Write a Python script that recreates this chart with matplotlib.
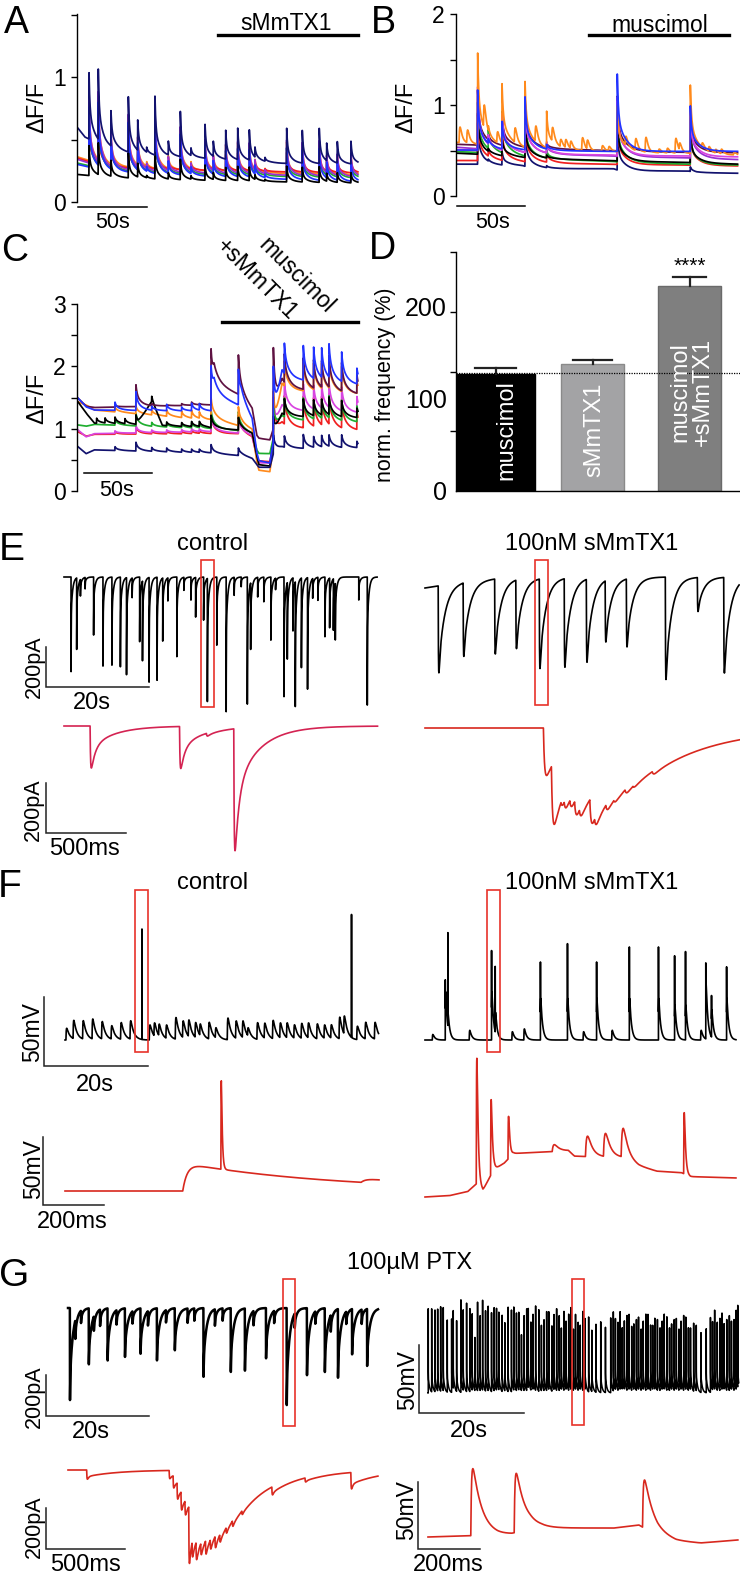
import numpy as np
import matplotlib
matplotlib.use("Agg")
import matplotlib.pyplot as plt
from matplotlib.patches import Rectangle
from matplotlib.ticker import FixedLocator

plt.rcParams['font.family'] = ['Liberation Sans', 'DejaVu Sans']

W, H = 740, 1576

# ---------------- panel A : calcium imaging, sMmTX1 ----------------
A_event_t = [8.0, 14.7, 23.9, 36.5, 43.3, 49.8, 55.8, 65.5, 74.2, 81.9, 92.1, 98.1,
             107.1, 115.8, 124.2, 128.3, 135.6, 151.3, 162.6, 174.9, 180.3, 188.0, 197.9]
A_navy_amp = [0.53, 0.56, 0.28, 0.44, 0.24, 0.04, 0.47, 0.11, 0.36, 0.06, 0.27, 0.12,
              0.23, 0.25, 0.24, 0.08, 0.03, 0.28, 0.26, 0.28, 0.14, 0.17, 0.18]
A_navy_base_t = [0, 5, 20, 35, 55, 90, 147, 203]
A_navy_base = [0.59, 0.52, 0.44, 0.40, 0.37, 0.35, 0.31, 0.30]
A_base_t = [0, 20, 60, 203]
A_orange_base = [0.36, 0.29, 0.26, 0.21]
A_red_base = [0.35, 0.28, 0.26, 0.23]
A_green_base = [0.31, 0.26, 0.23, 0.19]
A_violet_base = [0.34, 0.27, 0.24, 0.20]
A_blue_base = [0.30, 0.25, 0.22, 0.16]
A_black_base = [0.22, 0.20, 0.18, 0.15]
A_gain = [0.9, 0.55, 0.8, 1.0, 0.9, 0.45]   # orange, red, green, violet, blue, black
A_drug_on, A_end = 101.5, 203.0

# ---------------- panel B : muscimol ----------------
B_event_t = [15.2, 23.0, 33.1, 50.0, 65.9, 117.8, 171.5]
B_base_t = [0, 15, 20, 48, 55, 115, 120, 170, 176, 206.3]
B_navy_base = [0.35, 0.35, 0.33, 0.33, 0.30, 0.30, 0.275, 0.275, 0.256, 0.25]
B_red_base = [0.39, 0.39, 0.38, 0.37, 0.36, 0.35, 0.345, 0.34, 0.335, 0.33]
B_green_base = [0.487, 0.48, 0.46, 0.43, 0.41, 0.38, 0.37, 0.35, 0.345, 0.34]
B_black_base = [0.47, 0.46, 0.44, 0.42, 0.41, 0.39, 0.38, 0.37, 0.36, 0.35]
B_maroon_base = [0.568, 0.56, 0.55, 0.53, 0.52, 0.50, 0.49, 0.48, 0.477, 0.475]
B_purple_base = [0.535, 0.52, 0.50, 0.47, 0.46, 0.44, 0.43, 0.42, 0.41, 0.40]
B_magenta_base = [0.51, 0.50, 0.49, 0.47, 0.46, 0.45, 0.44, 0.44, 0.43, 0.43]
B_orange_base = [0.59, 0.57, 0.55, 0.52, 0.51, 0.49, 0.48, 0.47, 0.46, 0.45]
B_blue_base = [0.505, 0.505, 0.50, 0.50, 0.50, 0.49, 0.49, 0.49, 0.49, 0.49]
B_navy_amp = [0.45, 0.02, 0.15, 0.40, 0.02, 0.45, 0.05]
B_red_amp = [0.50, 0.08, 0.35, 0.45, 0.12, 0.50, 0.40]
B_green_amp = [0.55, 0.22, 0.45, 0.45, 0.08, 0.55, 0.40]
B_black_amp = [0.45, 0.03, 0.20, 0.40, 0.03, 0.45, 0.35]
B_maroon_amp = [0.60, 0.05, 0.35, 0.50, 0.05, 0.60, 0.45]
B_purple_amp = [0.65, 0.08, 0.40, 0.55, 0.10, 0.65, 0.50]
B_magenta_amp = [0.70, 0.10, 0.40, 0.55, 0.12, 0.60, 0.50]
B_orange_amp = [1.00, 0.05, 0.65, 0.72, 0.40, 0.50, 0.75]
B_blue_amp = [0.66, 0.05, 0.30, 0.58, 0.05, 0.85, 0.50]
B_orange_own_t = [1.5, 7.1, 19.4, 29.2, 42.1, 57.3, 69.6, 75.7, 79.4, 83.1, 91.6, 95.3, 106.3,
                  111.2, 123.5, 130.8, 138.2, 148.0, 154.1, 160.2, 163.2, 179.8, 184.7, 189.6,
                  193.8, 203.1]
B_orange_own_amp = [0.17, 0.14, 0.25, 0.12, 0.16, 0.17, 0.15, 0.08, 0.09, 0.08, 0.14, 0.10, 0.06,
                    0.05, 0.10, 0.13, 0.16, 0.04, 0.05, 0.16, 0.08, 0.05, 0.05, 0.04, 0.05, 0.03]
B_drug_on, B_drug_off, B_end = 97.0, 200.0, 206.3

# ---------------- panel C : muscimol + sMmTX1 ----------------
C_event_t = [27.2, 42.6, 54.2, 65.2, 76.2, 83.5, 89.2, 97.8, 117.9, 143.6, 151.7, 165.6,
             173.2, 179.1, 184.5, 193.8, 205.0]
C_knot_t = [0, 6, 12, 95, 97.8, 100, 117.9, 120, 128, 131.5, 133, 141, 143.6, 150, 206]
C_red_base = [0.95, 0.88, 0.91, 0.92, 0.92, 0.92, 0.92, 0.92, 0.86, 0.55, 0.48, 0.47, 0.75, 1.02, 0.97]
C_magenta_base = [0.98, 0.87, 0.92, 0.95, 0.95, 0.95, 0.93, 0.93, 0.88, 0.52, 0.45, 0.45, 0.80, 1.30, 1.25]
C_green_base = [1.06, 1.04, 1.07, 1.00, 1.00, 1.00, 0.97, 0.97, 0.92, 0.65, 0.60, 0.60, 0.85, 1.15, 1.10]
C_orange_base = [1.43, 1.38, 1.30, 1.14, 1.14, 1.15, 1.05, 1.05, 0.98, 0.45, 0.33, 0.31, 0.70, 1.62, 1.55]
C_black_base = [1.43, 1.25, 1.09, 1.02, 1.01, 1.00, 0.98, 0.98, 0.92, 0.55, 0.42, 0.40, 0.80, 1.20, 1.17]
C_navy_base = [0.71, 0.60, 0.66, 0.61, 0.61, 0.60, 0.57, 0.57, 0.52, 0.42, 0.38, 0.38, 0.60, 0.68, 0.69]
C_maroon_base = [1.49, 1.36, 1.34, 1.38, 1.38, 1.72, 1.55, 1.50, 1.30, 0.88, 0.84, 0.82, 1.00, 1.65, 1.55]
C_blue_base = [1.49, 1.35, 1.30, 1.28, 1.28, 1.55, 1.38, 1.45, 1.14, 0.60, 0.48, 0.45, 0.80, 1.80, 1.70]
C_red_amp = [0.04, 0.12, 0.04, 0.04, 0.04, 0.05, 0.04, 0.30, 0.30, 0.75, 0.45, 0.50, 0.45, 0.45, 0.48, 0.45, 0.30]
C_magenta_amp = [0.04, 0.12, 0.04, 0.04, 0.04, 0.05, 0.04, 0.25, 0.25, 0.70, 0.40, 0.42, 0.38, 0.38, 0.40, 0.38, 0.25]
C_green_amp = [0.10, 0.20, 0.06, 0.06, 0.06, 0.08, 0.06, 0.30, 0.30, 0.55, 0.30, 0.35, 0.30, 0.30, 0.35, 0.32, 0.25]
C_orange_amp = [0.08, 0.12, 0.08, 0.10, 0.10, 0.12, 0.10, 0.35, 0.30, 0.90, 0.40, 0.45, 0.42, 0.40, 0.45, 0.40, 0.20]
C_black_amp = [0.10, 0.15, 0.08, 0.06, 0.06, 0.08, 0.08, 0.20, 0.20, 0.40, 0.25, 0.28, 0.25, 0.25, 0.28, 0.25, 0.15]
C_navy_amp = [0.06, 0.14, 0.06, 0.06, 0.05, 0.05, 0.05, 0.13, 0.12, 0.30, 0.18, 0.22, 0.17, 0.18, 0.18, 0.20, 0.10]
C_maroon_amp = [0.03, 0.35, 0.03, 0.02, 0.03, 0.05, 0.02, 0.90, 0.63, 1.30, 0.45, 0.50, 0.45, 0.42, 0.50, 0.45, 0.30]
C_blue_amp = [0.13, 0.30, 0.06, 0.10, 0.06, 0.12, 0.10, 0.72, 0.57, 1.20, 0.48, 0.55, 0.50, 0.47, 0.53, 0.47, 0.25]
C_black_hump_t = [44, 54.2, 62]
C_black_hump = [0, 0.38, 0]
C_black_extra_t = [13.7, 19.9, 34.5]
C_black_extra_amp = [0.08, 0.08, 0.08]
C_drug_on, C_end = 105.8, 205.8

# ---------------- panel D : frequency ----------------
D_labels = ['muscimol', 'sMmTX1', 'muscimol\n+sMmTX1']
D_values = [126.5, 137.0, 221.6]
D_sem = [6.1, 4.6, 10.1]
D_ref = 128.0
D_tick_marks = [0, 64.6, 129.2, 193.8, 258.4]

# ---------------- panel E : sEPSCs ----------------
E_ctrl_t = [1.37, 2.46, 3.19, 4.10, 5.75, 7.57, 9.31, 10.95, 12.14, 13.23, 14.69, 15.24, 16.52,
            18.07, 19.17, 20.17, 21.91, 23.28, 24.65, 25.56, 27.11, 27.84, 29.67, 31.49, 33.04,
            34.41, 35.60, 36.24, 37.61, 38.80, 40.17, 41.08, 42.72, 43.36, 44.46, 44.91, 46.10,
            47.29, 48.29, 49.30, 50.67, 51.58, 52.31, 52.68, 57.24, 58.89]
E_ctrl_amp = [-473, -357, -82, -57, -290, -445, -440, -448, -485, -98, -323, -398, -523,
              -515, -315, -115, -398, -65, -115, -198, -215, -615, -340, -673, -90,
              -48, -635, -332, -98, -123, -315, -57, -598, -382, -265, -623, -448,
              -557, -98, -115, -298, -248, -257, -282, -115, -640]
E_ctrl_window = (26.6, 29.1)
E_sm_t = [2.56, 7.40, 13.52, 17.63, 22.19, 27.03, 31.32, 34.98, 39.09, 46.66, 52.88, 58.00]
E_sm_amp = [-435, -368, -375, -343, -448, -443, -415, -307, -340, -512, -170, -478]
E_sm_base_t = [0, 2.5, 8, 15, 30, 61]
E_sm_base = [-55, -45, -20, -5, 0, 0]
E_sm_window = (21.3, 23.9)
E_ctrl_zoom_t = [163, 722, 890, 1061]
E_ctrl_zoom_amp = [-168, -168, -12, -488]
E_sm_zoom_t = [740, 790, 850, 870, 905, 935, 965, 1030, 1060, 1130, 1180, 1250, 1300, 1420]
E_sm_zoom_amp = [-190, -250, -30, -40, -40, -70, -40, -110, -40, -30, -15, -20, -10, -15]

# ---------------- panel F : membrane potential ----------------
F_rest = -65.0
F_ctrl_bump_t = [0.18, 1.55, 3.38, 5.20, 7.03, 8.86, 10.68, 12.50, 16.20, 17.10, 18.00, 19.40,
                 21.20, 22.60, 23.70, 25.00, 25.90, 27.60, 28.90, 31.20, 32.80, 34.10, 35.10,
                 36.90, 38.30, 39.90, 41.30, 42.60, 44.00, 45.40, 46.70, 48.40, 49.80, 51.10,
                 52.70, 53.60, 56.10, 57.70, 59.50]
F_ctrl_bump_amp = [8.5, 13.3, 13.3, 14.5, 12.6, 9.7, 12.1, 13.3, 10.9, 9.7, 8.5, 9.7, 15.7,
                   12.1, 12.1, 10.9, 8.5, 12.1, 7.3, 15.7, 12.6, 12.1, 6.0, 12.1, 10.9, 13.3,
                   10.9, 10.9, 9.7, 10.9, 10.9, 10.9, 9.7, 9.7, 15.7, 13.3, 9.7, 12.1, 12.1]
F_ctrl_spike_t = [14.8, 55.1]
F_ctrl_spike_amp = [80, 89]
F_ctrl_window = (13.5, 16.0)
F_sm_spike_t = [3.9, 4.4, 12.8, 13.5, 22.2, 27.4, 33.0, 39.3, 44.9, 48.0, 50.1, 54.0, 55.1, 58.0]
F_sm_spike_amp = [78.6, 77.3, 99.8, 62.4, 86.5, 99.8, 86.5, 97.4, 97.4, 86.0, 89.0, 95.0, 50.0, 83.0]
F_sm_plateau = [35, 10, 35, 15, 30, 30, 30, 30, 30, 25, 25, 40, 20, 30]
F_sm_small_t = [1.4, 8.5, 16.7, 19.0, 30.4, 35.9, 53.0]
F_sm_small_amp = [4, 7, 6, 8, 6, 7, 7]
F_sm_window = (11.9, 14.4)
F_ctrl_zoom_epsp_t = [386, 971]
F_ctrl_zoom_epsp_amp = [18, 2.5]
F_ctrl_zoom_spike_t = [511]
F_ctrl_zoom_spike_amp = [65]
F_sm_zoom_base_t = [0, 80, 140, 160, 170, 190, 225, 260, 290, 470, 490, 650, 700, 760, 840, 870, 1020]
F_sm_zoom_base = [-65, -64, -61, -57, -55, -60, -45, -40, -33, -31, -35, -36, -42, -46, -47, -50, -51]
F_sm_zoom_spike_t = [168, 215, 272, 848]
F_sm_zoom_spike_amp = [92, 55, 31, 45]
F_sm_zoom_bump_t = [417, 526, 585, 643]
F_sm_zoom_bump_amp = [5, 15, 17, 21]

# ---------------- panel G : 100 uM PTX ----------------
G_i_t = [0.36, 4.02, 7.67, 11.04, 14.06, 17.25, 20.72, 26.29, 31.59, 34.33, 38.43, 42.45,
         46.38, 49.85, 52.40, 55.14, 58.06]
G_i_amp = [-449, -273, -254, -237, -221, -254, -205, -335, -311, -303, -245, -473,
           -327, -311, -335, -221, -278]
G_i_small_t = [1.4, 2.5, 5.0, 6.2, 9.4, 12.5, 15.5, 19.0, 23.2, 24.5, 28.5, 30.0, 36.0,
               40.0, 44.0, 48.0, 51.0, 54.0, 57.0]
G_i_small_amp = [-90, -60, -70, -80, -70, -60, -70, -60, -70, -60, -80, -60, -70,
                 -60, -70, -60, -80, -60, -70]
G_i_window = (41.8, 44.1)
G_v_spike_t = [0.05, 0.70, 1.33, 1.84, 2.41, 2.91, 3.67, 4.50, 4.81, 5.45, 6.27, 6.71, 7.35,
               7.98, 8.42, 8.93, 9.44, 9.94, 10.40, 10.96, 11.46, 12.10, 12.60, 13.05, 13.49,
               14.12, 14.63, 15.26, 15.90, 16.34, 16.85, 17.29, 17.80, 18.3, 18.8, 19.1, 19.6,
               20.0, 20.5, 21.1, 21.6, 22.1, 22.6, 23.0, 23.6, 24.0, 24.5, 25.0, 25.4, 25.9,
               26.3, 26.8, 27.2, 27.7, 28.1, 28.6, 29.0, 29.5, 29.9, 30.6, 31.2, 32.0, 32.9,
               33.8, 34.8, 35.3, 35.7, 36.2, 36.6, 37.0, 37.4, 37.9, 38.3, 38.8, 39.2, 39.7,
               40.1, 40.6, 41.0, 41.5, 41.9, 42.4, 42.8, 43.2, 43.7, 44.2, 44.6, 45.0, 45.5,
               46.0, 46.4, 46.9, 47.3, 47.8, 48.2, 48.7, 49.1, 49.6, 50.0, 50.6, 51.1, 52.0,
               53.0, 53.8, 54.2, 54.6, 55.1, 55.6, 56.0, 56.4, 56.9, 57.4, 57.8, 58.3, 58.7,
               59.0]
G_v_spike_amp = [62, 61, 60, 60, 62, 61, 53, 54, 57, 52, 68, 59, 65,
                 61, 56, 39, 65, 55, 66, 59, 62, 58, 61, 60, 57,
                 56, 50, 62, 60, 61, 57, 57, 41, 55, 60, 58, 50,
                 55, 62, 60, 48, 52, 58, 57, 48, 55, 60, 55, 45, 58,
                 50, 56, 60, 45, 55, 50, 47, 58, 52, 55, 45, 50, 52,
                 48, 55, 58, 52, 50, 57, 45, 50, 55, 55, 47, 48, 52,
                 53, 45, 50, 56, 55, 48, 47, 52, 52, 46, 50, 55, 54,
                 46, 48, 52, 52, 45, 50, 55, 53, 46, 45, 50, 48, 44,
                 47, 55, 50, 58, 50, 53, 56, 48, 52, 55, 50, 52, 58,
                 60]
G_v_window = (27.4, 29.7)
G_i_zoom_t = [118, 640, 665, 690, 715, 740, 764, 785, 810, 840, 870, 900, 930, 960, 1000,
              1040, 1100, 1290, 1500, 1790]
G_i_zoom_amp = [-45, -40, -60, -80, -90, -70, -280, -80, -90, -60, -70, -50, -60, -40, -30,
                -30, -20, -40, -20, -80]
G_v_zoom_base_t = [0, 130, 225, 270, 330, 363, 600, 680, 740, 800, 880, 1000]
G_v_zoom_base = [0, 1, 1, 2, 6, 6.7, 6.7, 9, 1, -3, -4.5, -2.2]
G_v_zoom_spike_t = [138, 278, 692]
G_v_zoom_spike_amp = [50, 44, 36]

# colours
NAVY, BLUE, VIOLET, MAGENTA = "#12126e", "#2233ff", "#9a2fd0", "#d845e0"
ORANGE, RED, GREEN, MAROON = "#ff8a1c", "#f02020", "#1fae2f", "#5e1242"
TRACE_RED, CTRL_RED, BOX_RED = "#d8281e", "#d42352", "#e8322a"


def kernel_sum(t, ev_t, ev_a, taus, fracs, rise=0.0):
    y = np.zeros_like(t)
    for te, a in zip(ev_t, ev_a):
        i = np.searchsorted(t, te)
        if i >= len(t):
            continue
        s = t[i:] - t[i]
        k = np.zeros_like(s)
        for f, tau in zip(fracs, taus):
            k += f * np.exp(-s / tau)
        if rise > 0:
            k *= 1 - np.exp(-s / rise)
            k /= k.max()
        y[i:] += a * k
    return y


fig = plt.figure(figsize=(W / 100, H / 100), dpi=100)


def px_axes(box, xref_px, xref, xs, yref_px, yref, ys, off=True):
    l, t, r, b = box
    ax = fig.add_axes([l / W, 1 - b / H, (r - l) / W, (b - t) / H])
    ax.set_xlim(xref + (l - xref_px) * xs, xref + (r - xref_px) * xs)
    ax.set_ylim(yref + (yref_px - b) * ys, yref + (yref_px - t) * ys)
    if off:
        ax.axis('off')
    return ax


def ftext(x, y, s, size, **kw):
    kw.setdefault('ha', 'center')
    kw.setdefault('va', 'center')
    fig.text(x / W, 1 - y / H, s, fontsize=size, **kw)


def scalebar(ax, x0, y0, dx, dy):
    ax.plot([x0, x0, x0 + dx], [y0 + dy, y0, y0], color='#222222', lw=1.1,
            clip_on=False, solid_joinstyle='miter')


def zoom_box(ax, win, v0, v1):
    ax.add_patch(Rectangle((win[0], v0), win[1] - win[0], v1 - v0, fill=False,
                           ec=BOX_RED, lw=1.2, clip_on=False, zorder=5))


def imaging_axes(ax, ticks, labels):
    for s in ('top', 'right', 'bottom'):
        ax.spines[s].set_visible(False)
    ax.spines['left'].set_linewidth(1.0)
    ax.set_xticks([])
    ax.set_yticks(ticks)
    ax.set_yticklabels(labels)
    ax.tick_params(axis='y', length=4, width=1.0, labelsize=16.5, pad=4)


LW = 1.25

# ---- A ----
axA = px_axes((77, 14, 360, 202), 78, 0, 0.725, 202, 0, 1 / 125, off=False)
imaging_axes(axA, [0, 0.5, 1, 1.5], ['0', '', '1', ''])
tA = np.arange(0, A_end, 0.1)
A_traces = [(A_orange_base, ORANGE), (A_red_base, RED), (A_green_base, GREEN),
            (A_violet_base, VIOLET), (A_blue_base, BLUE), (A_black_base, 'k')]
for (base, col), g in zip(A_traces, A_gain):
    y = np.interp(tA, A_base_t, base) + kernel_sum(tA, A_event_t, np.array(A_navy_amp) * g,
                                                     (0.6, 3.5), (0.55, 0.45))
    axA.plot(tA, y, color=col, lw=LW)
yN = np.interp(tA, A_navy_base_t, A_navy_base) + kernel_sum(tA, A_event_t, A_navy_amp,
                                                              (0.6, 3.5), (0.55, 0.45))
axA.plot(tA, yN, color=NAVY, lw=LW)
axA.plot([0, 50], [-0.04, -0.04], color='k', lw=1.1, clip_on=False)
axA.plot([A_drug_on, A_end], [1.336, 1.336], color='k', lw=2.4, clip_on=False)
ftext(286, 23, 'sMmTX1', 16.5)
ftext(113, 222, '50s', 15.5)
ftext(37, 107, 'ΔF/F', 17, rotation=90)
ftext(16, 23, 'A', 27)

# ---- B ----
axB = px_axes((456, 14, 740, 196), 457, 0, 0.735, 196, 0, 1 / 91, off=False)
imaging_axes(axB, [0, 0.5, 1, 1.5, 2], ['0', '', '1', '', '2'])
tB = np.arange(0, B_end, 0.1)
B_traces = [(B_navy_base, B_navy_amp, NAVY), (B_red_base, B_red_amp, RED),
            (B_green_base, B_green_amp, GREEN), (B_black_base, B_black_amp, 'k'),
            (B_maroon_base, B_maroon_amp, MAROON), (B_purple_base, B_purple_amp, VIOLET),
            (B_magenta_base, B_magenta_amp, MAGENTA), (B_orange_base, B_orange_amp, ORANGE),
            (B_blue_base, B_blue_amp, BLUE)]
for base, amp, col in B_traces:
    y = np.interp(tB, B_base_t, base) + kernel_sum(tB, B_event_t, amp, (0.8, 6.0), (0.55, 0.45))
    if col == ORANGE:
        y += kernel_sum(tB, B_orange_own_t, B_orange_own_amp, (1.5,), (1.0,), rise=0.6)
    axB.plot(tB, y, color=col, lw=LW)
axB.plot([0, 50], [-0.11, -0.11], color='k', lw=1.1, clip_on=False)
axB.plot([B_drug_on, B_drug_off], [1.77, 1.77], color='k', lw=2.4, clip_on=False)
ftext(660, 25, 'muscimol', 16.5)
ftext(493, 222, '50s', 15.5)
ftext(406, 107, 'ΔF/F', 17, rotation=90)
ftext(383, 23, 'B', 27)

# ---- C ----
axC = px_axes((77, 304, 360, 491), 78, 0, 0.735, 491, 0, 1 / 62.3, off=False)
imaging_axes(axC, [0, 0.5, 1, 1.5, 2, 2.5, 3], ['0', '', '1', '', '2', '', '3'])
tC = np.arange(0, C_end, 0.1)
C_traces = [(C_red_base, C_red_amp, RED), (C_magenta_base, C_magenta_amp, MAGENTA),
            (C_green_base, C_green_amp, GREEN), (C_orange_base, C_orange_amp, ORANGE),
            (C_black_base, C_black_amp, 'k'), (C_navy_base, C_navy_amp, NAVY),
            (C_maroon_base, C_maroon_amp, MAROON), (C_blue_base, C_blue_amp, BLUE)]
for base, amp, col in C_traces:
    y = np.interp(tC, C_knot_t, base) + kernel_sum(tC, C_event_t, amp, (0.8, 4.0), (0.4, 0.6))
    if col == 'k':
        y += np.interp(tC, C_black_hump_t, C_black_hump, left=0, right=0)
        y += kernel_sum(tC, C_black_extra_t, C_black_extra_amp, (0.8, 4.0), (0.4, 0.6))
    axC.plot(tC, y, color=col, lw=LW)
axC.plot([4.4, 54.4], [0.29, 0.29], color='k', lw=1.1)
axC.plot([C_drug_on, C_end], [2.71, 2.71], color='k', lw=2.4, clip_on=False)
ftext(117, 490, '50s', 15.5)
ftext(296, 276, 'muscimol', 16.5, rotation=-45)
ftext(257, 279, '+sMmTX1', 16.5, rotation=-45)
ftext(37, 398, 'ΔF/F', 17, rotation=90)
ftext(15, 251, 'C', 27)

# ---- D ----
axD = px_axes((456, 252, 740, 491), 456, -0.41, 2.93 / 284, 491, 0, 258.4 / 239, off=False)
xD = np.arange(len(D_values))
axD.bar(xD, D_values, width=[0.80, 0.65, 0.65], color=['#000000', '#a3a3a5', '#7f7f7f'],
        edgecolor=['#000000', '#8a8a8a', '#6a6a6a'], linewidth=1.0, zorder=2)
for xi, v, e, cw in zip(xD, D_values, D_sem, [0.42, 0.40, 0.34]):
    axD.plot([xi, xi], [v, v + e], color='#222222', lw=1.6, zorder=3)
    axD.plot([xi - cw / 2, xi + cw / 2], [v + e, v + e], color='#222222', lw=1.6, zorder=3)
axD.axhline(D_ref, color='k', ls=(0, (1, 1)), lw=0.9, zorder=4)
for s in ('top', 'right'):
    axD.spines[s].set_visible(False)
axD.spines['left'].set_linewidth(1.0)
axD.spines['bottom'].set_linewidth(1.0)
axD.set_xticks([])
axD.set_yticks([0, 100, 200])
axD.set_yticklabels(['0', '100', '200'])
axD.tick_params(axis='y', which='major', length=0, pad=6.5, labelsize=18)
axD.yaxis.set_minor_locator(FixedLocator(D_tick_marks))
axD.tick_params(axis='y', which='minor', length=4, width=1.0)
for xi, lab, yc, dx in zip(xD, D_labels, [66, 66, 107], [0.11, 0.02, 0.02]):
    axD.text(xi + dx, yc, lab, rotation=90, color='white', fontsize=17, ha='center',
             va='center', linespacing=1.0, zorder=5)
axD.text(2, 242.5, '****', ha='center', va='center', fontsize=15)
ftext(386, 385, 'norm. frequency (%)', 15.5, rotation=90)
ftext(382, 249, 'D', 27)

# ---- E ----
ftext(12, 550, 'E', 28)
ftext(213, 544, 'control', 17)
ftext(592, 544, '100nM sMmTX1', 17)

axE1 = px_axes((30, 555, 385, 715), 64, 0, 20 / 103, 577, 0, 5.0)
tE1 = np.arange(0, 60.8, 0.005)
axE1.plot(tE1, kernel_sum(tE1, E_ctrl_t, E_ctrl_amp, (0.03, 0.3), (0.6, 0.4)), color='k', lw=1.2)
zoom_box(axE1, E_ctrl_window, 85, -650)
scalebar(axE1, -3.5, -550, 20, 200)
ftext(34, 667, '200pA', 15.5, rotation=90)
ftext(92, 703, '20s', 17)

axE2 = px_axes((410, 555, 740, 715), 425, 0, 20 / 103, 577, 0, 5.0)
tE2 = np.arange(0, 61.0, 0.005)
yE2 = np.interp(tE2, E_sm_base_t, E_sm_base) + kernel_sum(tE2, E_sm_t, E_sm_amp, (0.15, 1.2),
                                                          (0.35, 0.65), rise=0.06)
axE2.plot(tE2, yE2, color='k', lw=1.2)
zoom_box(axE2, E_sm_window, 85, -640)

axE3 = px_axes((30, 715, 385, 860), 64, 0, 6.25, 726, 0, 4.0)
tE3 = np.arange(0, 1960, 0.5)
axE3.plot(tE3, kernel_sum(tE3, E_ctrl_zoom_t, E_ctrl_zoom_amp, (25, 150), (0.6, 0.4), rise=3),
          color=CTRL_RED, lw=1.2)
scalebar(axE3, -112.5, -428, 500, 200)
ftext(33, 810, '200pA', 15.5, rotation=90)
ftext(84, 849, '500ms', 17)

axE4 = px_axes((410, 715, 740, 860), 425, 0, 6.25, 728, 0, 4.0)
tE4 = np.arange(0, 1965, 0.5)
axE4.plot(tE4, kernel_sum(tE4, E_sm_zoom_t, E_sm_zoom_amp, (40, 400), (0.5, 0.5), rise=8),
          color=TRACE_RED, lw=1.2)

# ---- F ----
ftext(10, 887, 'F', 28)
ftext(213, 883, 'control', 17)
ftext(592, 883, '100nM sMmTX1', 17)

axF1 = px_axes((25, 880, 385, 1075), 65, 0, 20 / 104, 1040, F_rest, 50 / 69)
tF1 = np.arange(0, 60.3, 0.005)
yF1 = F_rest + kernel_sum(tF1, F_ctrl_bump_t, F_ctrl_bump_amp, (0.6,), (1.0,), rise=0.06)
yF1 += kernel_sum(tF1, F_ctrl_spike_t, F_ctrl_spike_amp, (0.004,), (1.0,))
axF1.plot(tF1, yF1, color='k', lw=1.2)
zoom_box(axF1, F_ctrl_window, 43.75, -73.7)
scalebar(axF1, -4.0, -83.9, 20, 50)
ftext(33, 1032, '50mV', 16.5, rotation=90)
ftext(95, 1085, '20s', 17)

axF2 = px_axes((410, 880, 740, 1075), 425, 0, 20 / 104, 1040, F_rest, 50 / 69)
tF2 = np.arange(0, 59.8, 0.005)
yF2 = F_rest + kernel_sum(tF2, F_sm_spike_t, F_sm_plateau, (0.35,), (1.0,), rise=0.02)
yF2 += kernel_sum(tF2, F_sm_spike_t, np.array(F_sm_spike_amp) - np.array(F_sm_plateau),
                  (0.004,), (1.0,))
yF2 += kernel_sum(tF2, F_sm_small_t, F_sm_small_amp, (0.4,), (1.0,), rise=0.05)
axF2.plot(tF2, yF2, color='k', lw=1.2)
zoom_box(axF2, F_sm_window, 43.75, -73.7)

axF3 = px_axes((25, 1080, 385, 1240), 65, 0, 200 / 61, 1191, F_rest, 50 / 68)
tF3 = np.arange(0, 1030, 0.5)
yF3 = F_rest + kernel_sum(tF3, F_ctrl_zoom_epsp_t, F_ctrl_zoom_epsp_amp, (500,), (1.0,), rise=15)
yF3 += kernel_sum(tF3, F_ctrl_zoom_spike_t, F_ctrl_zoom_spike_amp, (3,), (1.0,), rise=1)
axF3.plot(tF3, yF3, color=TRACE_RED, lw=1.2)
scalebar(axF3, -72, -75.3, 200, 50)
ftext(34, 1169, '50mV', 16.5, rotation=90)
ftext(72, 1222, '200ms', 17)

axF4 = px_axes((410, 1040, 740, 1240), 425, 0, 200 / 61, 1197, F_rest, 50 / 68)
tF4 = np.arange(0, 1020, 0.5)
yF4 = np.interp(tF4, F_sm_zoom_base_t, F_sm_zoom_base)
yF4 += kernel_sum(tF4, F_sm_zoom_spike_t, F_sm_zoom_spike_amp, (4,), (1.0,), rise=1.5)
yF4 += kernel_sum(tF4, F_sm_zoom_bump_t, F_sm_zoom_bump_amp, (15,), (1.0,), rise=5)
axF4.plot(tF4, yF4, color=TRACE_RED, lw=1.2)

# ---- G ----
ftext(14, 1276, 'G', 28)
ftext(410, 1263, '100µM PTX', 17)

axG1 = px_axes((25, 1285, 385, 1445), 68, 0, 20 / 103, 1308, 0, 200 / 41)
tG1 = np.arange(0, 60.2, 0.005)
yG1 = kernel_sum(tG1, G_i_t, G_i_amp, (0.05, 0.6), (0.4, 0.6), rise=0.01)
yG1 += kernel_sum(tG1, G_i_small_t, G_i_small_amp, (0.05, 0.4), (0.5, 0.5), rise=0.01)
axG1.plot(tG1, yG1, color='k', lw=1.8)
zoom_box(axG1, G_i_window, 141.5, -576)
scalebar(axG1, -4.27, -527, 20, 200)
ftext(34, 1397, '200pA', 15.5, rotation=90)
ftext(91, 1432, '20s', 17)

axG2 = px_axes((400, 1285, 740, 1445), 428, 0, 20 / 105, 1393, F_rest, 50 / 68)
tG2 = np.arange(0, 59.2, 0.005)
yG2 = F_rest + kernel_sum(tG2, G_v_spike_t, np.full(len(G_v_spike_t), 12.0), (0.25,), (1.0,))
yG2 += kernel_sum(tG2, G_v_spike_t, np.array(G_v_spike_amp) - 12.0, (0.006,), (1.0,))
axG2.plot(tG2, yG2, color='k', lw=1.1)
zoom_box(axG2, G_v_window, 18.8, -88.5)
scalebar(axG2, -1.7, -79.7, 20, 50)
ftext(408, 1380, '50mV', 16.5, rotation=90)
ftext(469, 1431, '20s', 17)

axG3 = px_axes((25, 1455, 385, 1576), 68, 0, 500 / 79, 1470, 0, 200 / 41)
tG3 = np.arange(0, 1962, 0.5)
axG3.plot(tG3, kernel_sum(tG3, G_i_zoom_t, G_i_zoom_amp, (8, 200), (0.5, 0.5), rise=2),
          color=TRACE_RED, lw=1.2)
scalebar(axG3, -139, -385.5, 500, 200)
ftext(34, 1527, '200pA', 15.5, rotation=90)
ftext(85, 1565, '500ms', 17)

axG4 = px_axes((400, 1455, 740, 1576), 428, 0, 200 / 62, 1537, 0, 50 / 67)
tG4 = np.arange(0, 1000, 0.5)
yG4 = np.interp(tG4, G_v_zoom_base_t, G_v_zoom_base)
yG4 += kernel_sum(tG4, G_v_zoom_spike_t, G_v_zoom_spike_amp, (3, 30), (0.15, 0.85), rise=3)
axG4.plot(tG4, yG4, color=TRACE_RED, lw=1.2)
scalebar(axG4, -32, -9, 200, 50)
ftext(407, 1510, '50mV', 16.5, rotation=90)
ftext(448, 1565, '200ms', 17)

fig.savefig("out.png", dpi=100)
